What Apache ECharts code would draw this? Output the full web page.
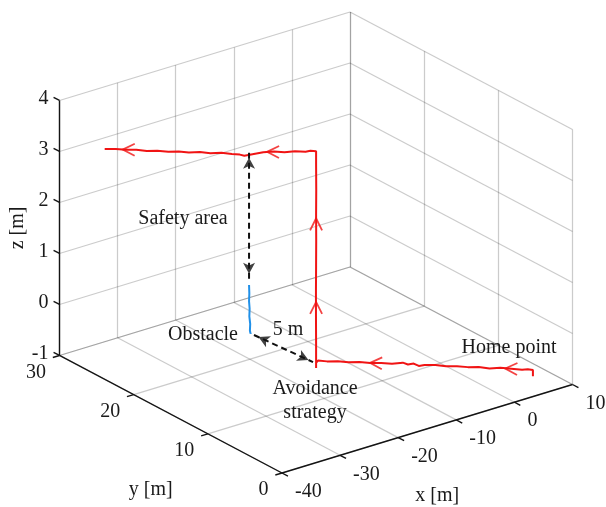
<!DOCTYPE html>
<html><head><meta charset="utf-8">
<script src="https://cdn.jsdelivr.net/npm/echarts@6/dist/echarts.min.js"></script>
<style>html,body{margin:0;padding:0;background:#fff}#c{width:606px;height:507px}</style>
</head><body><div id="c"></div>
<script>
// ---------- data ----------
const xTicks = [-40, -30, -20, -10, 0, 10];
const yTicks = [0, 10, 20, 30];
const zTicks = [-1, 0, 1, 2, 3, 4];
const xTickLabels = ['-40', '-30', '-20', '-10', '0', '10'];
const yTickLabels = ['0', '10', '20', '30'];
const zTickLabels = ['-1', '0', '1', '2', '3', '4'];

// red trajectory [x, y, z] in metres
const pathXYZ = [
  [7.4,3.3,-1.0],[7.4,3.3,-0.88],[6.9,3.6,-0.87],[6.3,3.9,-0.88],[5.2,4.5,-0.87],[4.1,5.1,-0.86],
  [3.0,5.7,-0.88],[1.9,6.3,-0.86],[0.8,6.9,-0.87],[-0.3,7.5,-0.86],[-1.4,8.1,-0.87],[-2.5,8.7,-0.85],
  [-3.6,9.3,-0.86],[-4.2,9.6,-0.88],[-4.7,9.9,-0.84],[-5.3,10.2,-0.86],[-5.8,10.5,-0.83],[-6.9,11.1,-0.86],
  [-8.0,11.7,-0.85],[-9.1,12.3,-0.86],[-10.2,12.9,-0.85],[-11.3,13.5,-0.86],[-12.4,14.1,-0.85],
  [-13.5,14.7,-0.86],[-14.4,15.2,-0.85],[-14.6,15.3,-0.9],[-14.6,15.3,-1.0],
  [-14.6,15.3,-0.5],[-14.62,15.3,0],[-14.6,15.32,0.5],[-14.6,15.3,1],[-14.58,15.3,1.5],[-14.6,15.3,2],
  [-14.6,15.28,2.5],[-14.6,15.3,3],[-14.6,15.3,3.25],
  [-15.2,15.6,3.26],[-15.7,15.85,3.24],[-16.9,16.35,3.25],[-18.0,16.9,3.23],[-19.1,17.45,3.24],
  [-20.25,18.0,3.22],[-21.4,18.55,3.18],[-22.3,18.95,3.15],[-22.75,19.2,3.17],[-23.6,19.6,3.18],
  [-24.7,20.15,3.2],[-25.9,20.7,3.19],[-27.0,21.25,3.21],[-28.2,21.8,3.2],[-29.3,22.3,3.22],
  [-30.4,22.85,3.21],[-31.6,23.4,3.23],[-32.7,23.95,3.22],[-33.8,24.5,3.24],[-34.9,25.0,3.24],
  [-36.0,25.55,3.25],[-37.2,26.1,3.25]
];
// blue obstacle
const obstacleXYZ = [
  [-21.8,18.7,0.62],[-21.75,18.7,0.45],[-21.8,18.7,0.3],[-21.7,18.7,0.15],[-21.75,18.7,0.0],
  [-21.6,18.7,-0.15],[-21.65,18.7,-0.28],[-21.55,18.7,-0.34],[-21.45,18.7,-0.33]
];
// direction markers on trajectory: [x, y, z, dx, dy, dz]
const pathArrows = [
  [-19.2,17.5,3.23,-1,0.478,0],[-34.6,24.9,3.24,-1,0.478,0],
  [-14.6,15.3,1.82,0,0,1],[-14.6,15.3,0.18,0,0,1],
  [-8.5,12.0,-0.86,-1,0.545,0],[5.2,4.5,-0.87,-1,0.545,0]
];
// dashed double arrows (tip to tip)
const safetyArrow = [[-21.8,18.7,3.21],[-21.8,18.7,0.74]];
const distArrow = [[-21.5,18.27,-0.34],[-20.64,10.98,-0.34]];

const annotations = [
  {text:'Safety area', x:183, y:219},
  {text:'Obstacle', x:203, y:335},
  {text:'5 m', x:288, y:330},
  {text:'Avoidance\nstrategy', x:315, y:401},
  {text:'Home point', x:509, y:348}
];

// ---------- view (orthographic projection of the 3-D box) ----------
const VIEW = {ox:282, oy:473, ex:[5.81,-1.77], ey:[-7.417,-3.917], ez:[0,-51]};
const xMin = xTicks[0], xMax = xTicks[xTicks.length-1];
const yMin = yTicks[0], yMax = yTicks[yTicks.length-1];
const zMin = zTicks[0], zMax = zTicks[zTicks.length-1];
function P(x, y, z) {
  const u = x - xMin, v = y - yMin, w = z - zMin;
  return [VIEW.ox + u*VIEW.ex[0] + v*VIEW.ey[0] + w*VIEW.ez[0],
          VIEW.oy + u*VIEW.ex[1] + v*VIEW.ey[1] + w*VIEW.ez[1]];
}
function seg(a, b) { return {coords:[P(a[0],a[1],a[2]), P(b[0],b[1],b[2])]}; }
function screenAngle(p, d) {
  const a = P(p[0],p[1],p[2]), b = P(p[0]+d[0]*0.1, p[1]+d[1]*0.1, p[2]+d[2]*0.1);
  return Math.atan2(-(b[1]-a[1]), b[0]-a[0]);
}
const DEG = 180/Math.PI;

// grid lines on the three back planes
const gridSegs = [];
xTicks.forEach(x => { gridSegs.push(seg([x,yMin,zMin],[x,yMax,zMin])); gridSegs.push(seg([x,yMax,zMin],[x,yMax,zMax])); });
yTicks.forEach(y => { gridSegs.push(seg([xMin,y,zMin],[xMax,y,zMin])); gridSegs.push(seg([xMax,y,zMin],[xMax,y,zMax])); });
zTicks.forEach(z => { gridSegs.push(seg([xMin,yMax,z],[xMax,yMax,z])); gridSegs.push(seg([xMax,yMin,z],[xMax,yMax,z])); });

// axes and ticks
const axisSegs = [
  seg([xMin,yMin,zMin],[xMax,yMin,zMin]),
  seg([xMin,yMin,zMin],[xMin,yMax,zMin]),
  seg([xMin,yMax,zMin],[xMin,yMax,zMax])
];
xTicks.forEach(x => axisSegs.push(seg([x,yMin,zMin],[x,yMin-0.8,zMin])));
yTicks.forEach(y => axisSegs.push(seg([xMin,y,zMin],[xMin-1.15,y,zMin])));
zTicks.forEach(z => axisSegs.push(seg([xMin,yMax,z],[xMin,yMax+0.8,z])));

// texts
const texts = [];
xTicks.forEach((x,i) => { const p = P(x,yMin,zMin); texts.push({text:xTickLabels[i], x:p[0]+13, y:p[1]+19, align:'left'}); });
yTicks.forEach((y,i) => { const p = P(xMin,y,zMin); texts.push({text:yTickLabels[i], x:p[0]-13.5, y:p[1]+17, align:'right'}); });
zTicks.forEach((z,i) => { const p = P(xMin,yMax,z); texts.push({text:zTickLabels[i], x:p[0]-11, y:p[1]-2, align:'right'}); });
{ const p = P(xMin,yMax,(zMin+zMax)/2); texts.push({text:'z [m]', x:p[0]-42, y:p[1], rot:Math.PI/2}); }
{ const p = P(xMin,(yMin+yMax)/2,zMin); texts.push({text:'y [m]', x:p[0]-20, y:p[1]+76}); }
{ const p = P((xMin+xMax)/2,yMin,zMin); texts.push({text:'x [m]', x:p[0]+10, y:p[1]+67}); }
annotations.forEach(a => texts.push({text:a.text, x:a.x, y:a.y}));

// direction chevrons
const chevData = pathArrows.map(a => {
  const ang = screenAngle([a[0],a[1],a[2]],[a[3],a[4],a[5]]);
  return {value:P(a[0],a[1],a[2]), symbolRotate: ang*DEG - 90};
});
// arrowheads of dashed arrows (tip placed on end point)
function heads(arr) {
  const out = [];
  const A = P(...arr[0]), B = P(...arr[1]);
  const L = Math.hypot(B[0]-A[0], B[1]-A[1]);
  const ux = (B[0]-A[0])/L, uy = (B[1]-A[1])/L;
  const h = 5;
  out.push({value:[B[0]-ux*h, B[1]-uy*h], symbolRotate: Math.atan2(-uy, ux)*DEG - 90});
  out.push({value:[A[0]+ux*h, A[1]+uy*h], symbolRotate: Math.atan2(uy, -ux)*DEG - 90});
  return out;
}

const chart = echarts.init(document.getElementById('c'), null, {renderer:'canvas'});
chart.setOption({
  animation:false,
  backgroundColor:'#ffffff',
  grid:{left:0,right:0,top:0,bottom:0},
  xAxis:{type:'value', min:0, max:606, show:false},
  yAxis:{type:'value', min:0, max:507, inverse:true, show:false},
  series:[
    {type:'lines', coordinateSystem:'cartesian2d', z:1, silent:true, data:gridSegs,
     lineStyle:{color:'rgba(38,38,38,0.24)', width:1.2, opacity:1}},
    {type:'lines', coordinateSystem:'cartesian2d', z:2, silent:true, data:axisSegs,
     lineStyle:{color:'#141414', width:1.4, opacity:1}},
    {type:'line', z:3, silent:true, showSymbol:false, data:pathXYZ.map(p => P(...p)),
     lineStyle:{color:'#f01414', width:2}},
    {type:'line', z:3, silent:true, showSymbol:false, data:obstacleXYZ.map(p => P(...p)),
     lineStyle:{color:'#2090e8', width:2}},
    {type:'line', z:3, silent:true, showSymbol:false, data:safetyArrow.map(p => P(...p)),
     lineStyle:{color:'#111', width:2, type:[6,4]}},
    {type:'line', z:3, silent:true, showSymbol:false, data:distArrow.map(p => P(...p)),
     lineStyle:{color:'#111', width:2, type:[6,4]}},
    {type:'scatter', z:4, silent:true, symbol:'path://M0,12L6,0L12,12', symbolSize:[12,12], data:chevData,
     itemStyle:{color:'none', borderColor:'#f01414', borderWidth:1.8}},
    {type:'scatter', z:4, silent:true, symbol:'arrow', symbolSize:[9,11],
     data:heads(safetyArrow).concat(heads(distArrow)), itemStyle:{color:'#111'}},
    {type:'custom', coordinateSystem:'cartesian2d', z:5, silent:true,
     data:texts.map(t => [t.x, t.y]),
     renderItem:function(params, api){
       const t = texts[params.dataIndex];
       const p = api.coord([api.value(0), api.value(1)]);
       return {type:'text', x:p[0], y:p[1], rotation:t.rot||0,
         style:{text:t.text, font:'20px "Liberation Serif", "Times New Roman", serif', fill:'#1a1a1a',
                align:t.align||'center', verticalAlign:'middle', lineHeight:24}};
     }}
  ]
});
</script></body></html>
